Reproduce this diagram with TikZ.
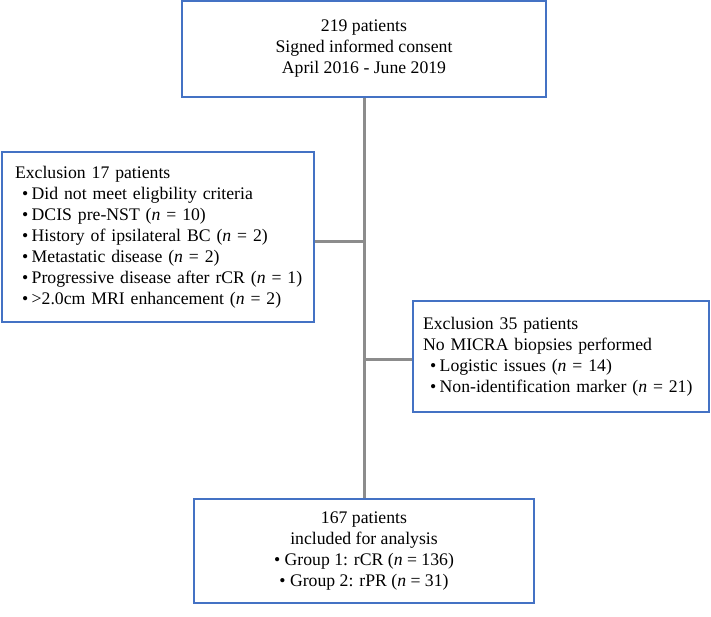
\documentclass[tikz,border=0pt]{standalone}
\usepackage{fontspec}
\setmainfont{Liberation Serif}
\definecolor{boxblue}{HTML}{4472C4}
\definecolor{linegray}{HTML}{8C8C8C}
\tikzset{
  box/.style={draw=boxblue, line width=2pt, fill=white, rectangle, inner ysep=0pt,
    font=\fontsize{17.7pt}{21pt}\selectfont},
  conn/.style={draw=linegray, line width=3pt}
}
\newcommand{\bul}[1]{\mbox{\hspace*{7pt}\textbullet\hspace{3.5pt}#1}}
\begin{document}
\begin{tikzpicture}[x=1pt,y=-1pt]
\useasboundingbox (0,0) rectangle (711,616);
\node[box, minimum width=364pt, minimum height=96pt, align=center] (top) at (364,49)
  {219 patients\\Signed informed consent\\April 2016 - June 2019};
\node[box, minimum width=312pt, minimum height=170pt, inner xsep=13pt, text width=286pt, align=left] (left) at (158,237)
  {Exclusion 17 patients\\
   \bul{Did not meet eligbility criteria}\\
   \bul{DCIS pre-NST (\textit{n} = 10)}\\
   \bul{History of ipsilateral BC (\textit{n} = 2)}\\
   \bul{Metastatic disease (\textit{n} = 2)}\\
   \bul{Progressive disease after rCR (\textit{n} = 1)}\\
   \bul{>2.0cm MRI enhancement (\textit{n} = 2)}};
\node[box, minimum width=296pt, minimum height=111pt, inner xsep=10pt, text width=276pt, align=left] (right) at (561,356.5)
  {Exclusion 35 patients\\
   No MICRA biopsies performed\\
   \bul{Logistic issues (\textit{n} = 14)}\\
   \bul{Non-identification marker (\textit{n} = 21)}};
\node[box, minimum width=340pt, minimum height=104pt, align=center] (bottom) at (364,551)
  {167 patients\\included for analysis\\\textbullet\ Group 1: rCR (\textit{n} = 136)\\\textbullet\ Group 2: rPR (\textit{n} = 31)};
\coordinate (j1) at (364,241);
\coordinate (j2) at (364,359);
\draw[conn] (top) -- (bottom);
\draw[conn] (j1) -- (j1 -| left.east);
\draw[conn] (j2) -- (j2 -| right.west);
\end{tikzpicture}
\end{document}
